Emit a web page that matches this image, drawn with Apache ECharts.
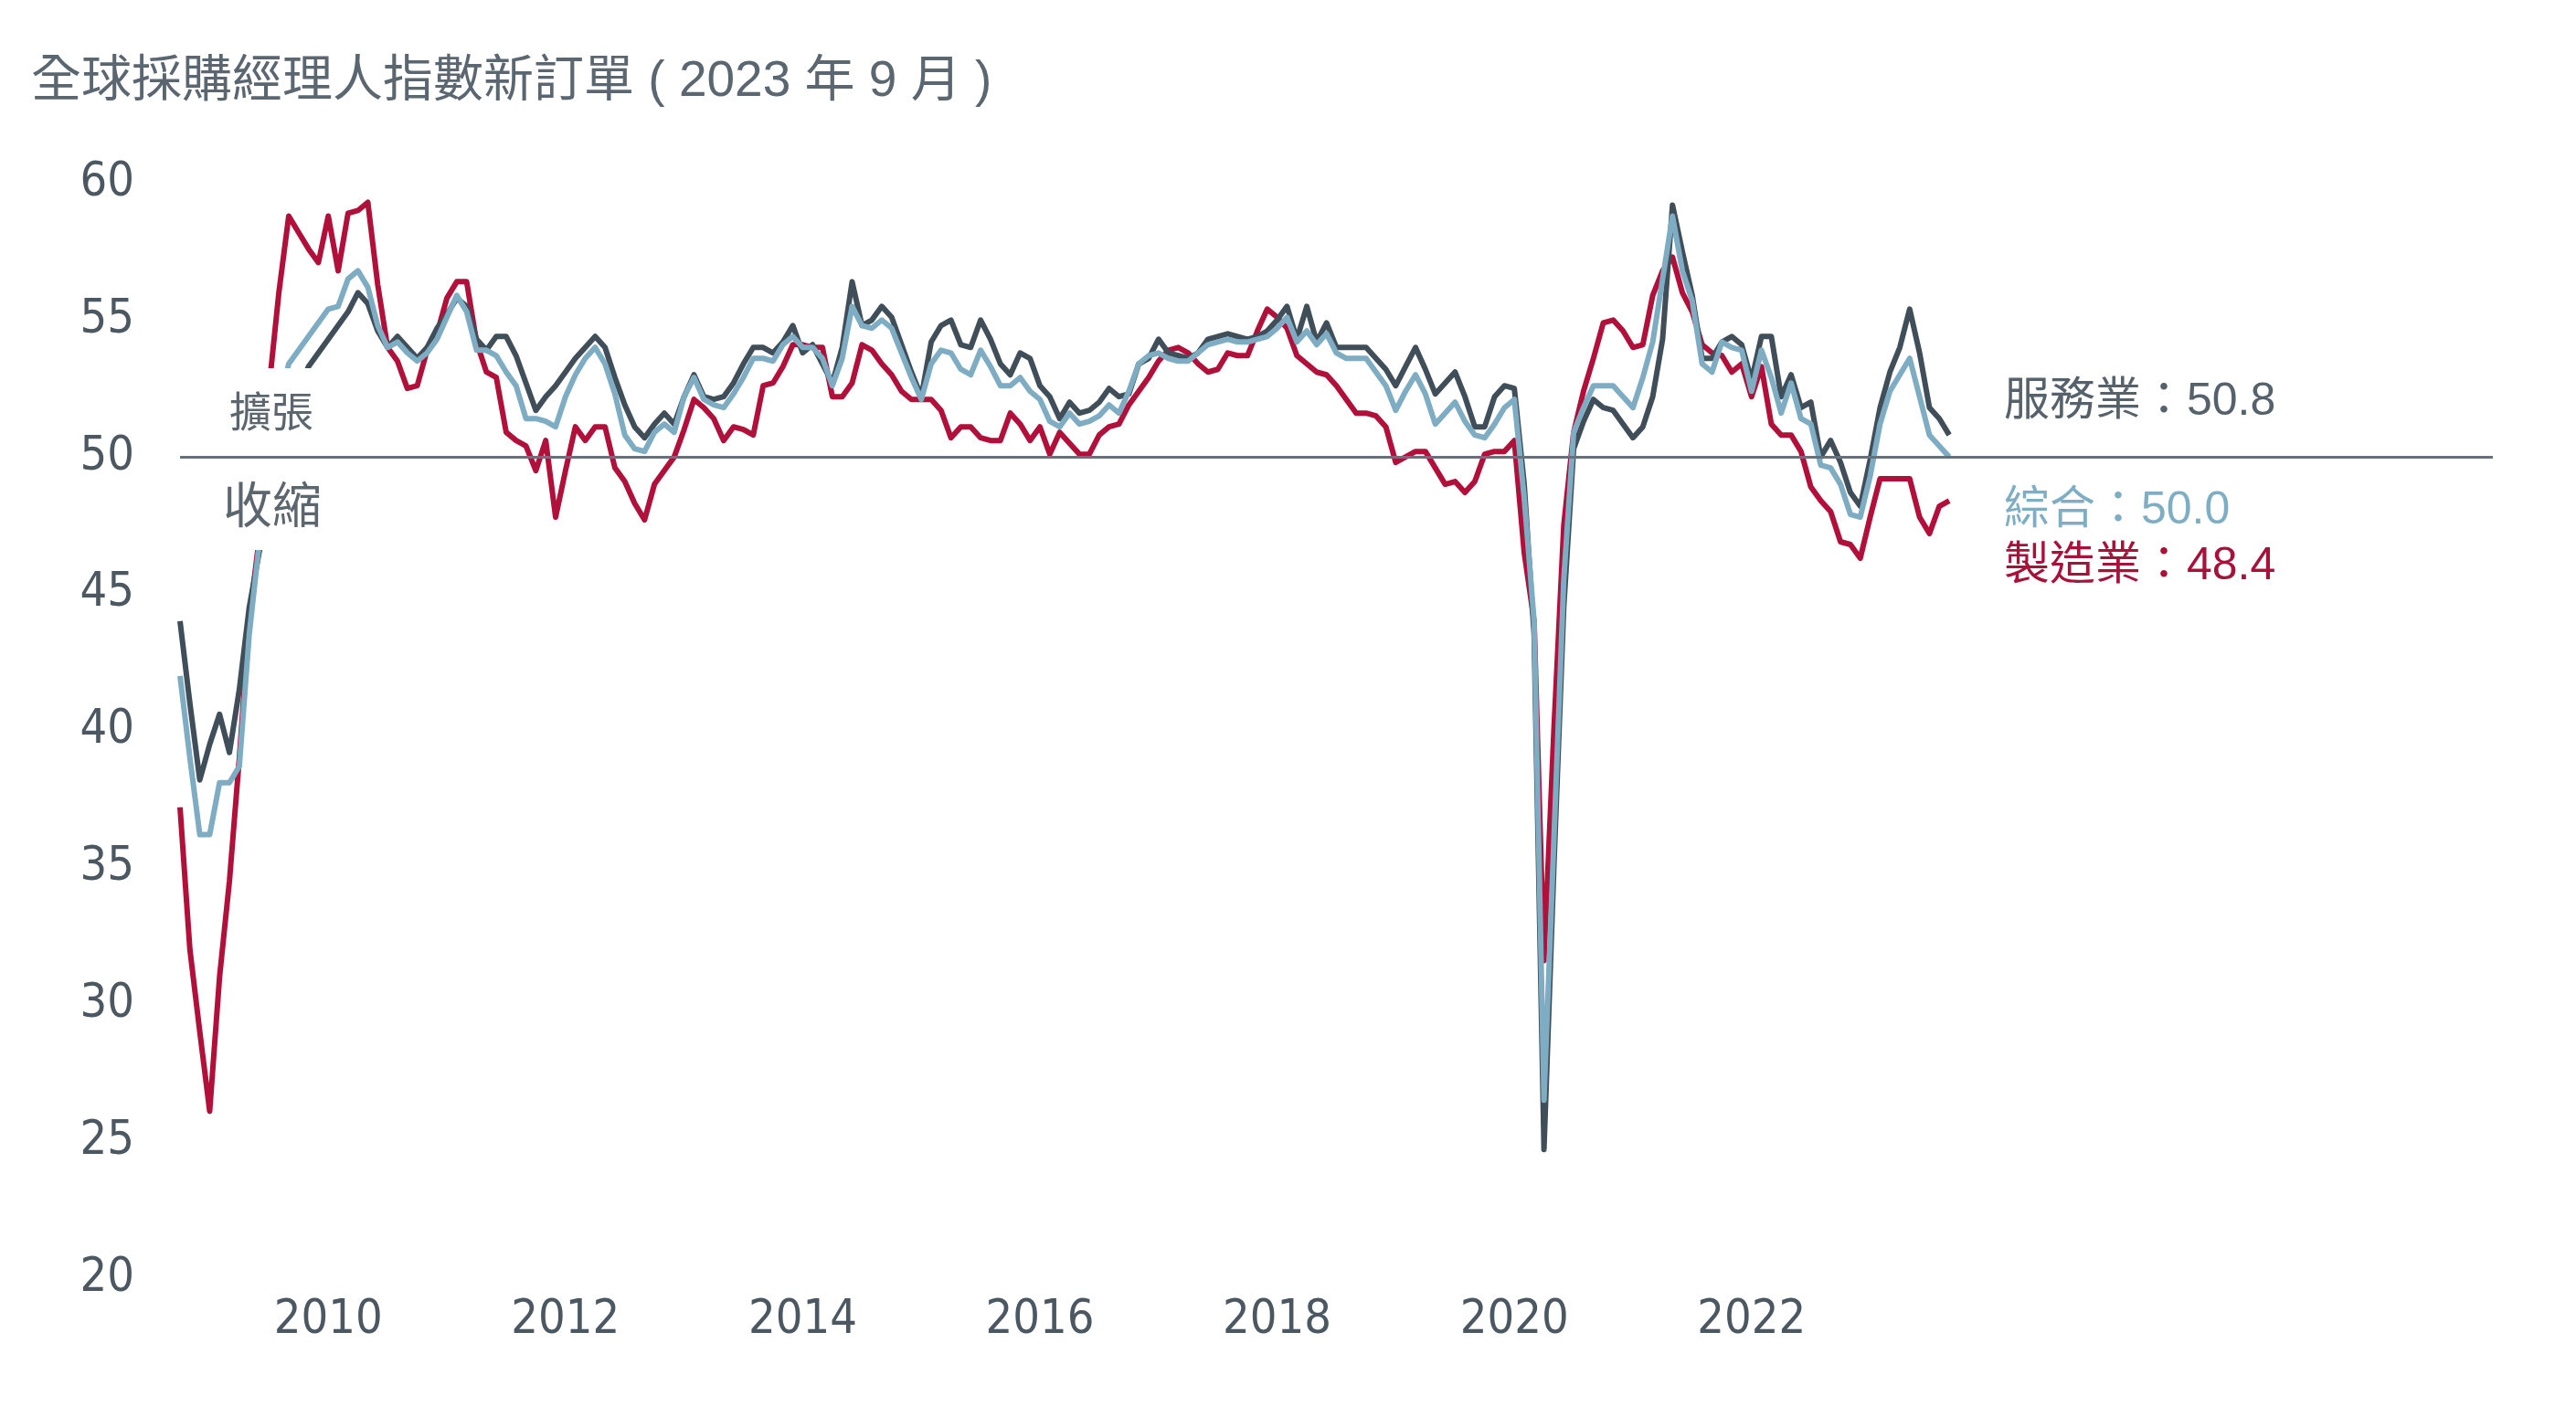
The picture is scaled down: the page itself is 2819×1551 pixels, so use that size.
<!DOCTYPE html>
<html>
<head>
<meta charset="utf-8">
<script src="https://cdn.jsdelivr.net/npm/echarts@6/dist/echarts.min.js"></script>
<style>
html,body{margin:0;padding:0;background:#ffffff;}
#chart{width:2819px;height:1551px;}
</style>
</head>
<body>
<div id="chart"></div>
<script>
// ---- axis / category definitions ----
const startYear = 2008;
const startMonth = 10;          // first month of the axis (Oct 2008)
const axisMonthCount = 235;     // axis runs past the data, to the end of the 50-line
const yearTickLabels = ['2010', '2012', '2014', '2016', '2018', '2020', '2022'];
const yMin = 20, yMax = 60, yStep = 5;
const threshold = 50;

// ---- series values (monthly, Oct 2008 – Sep 2023) ----
const manufacturing = [
  37.2, 32.0, 29.0,
  26.1, 31.0, 34.5, 39.0, 44.0, 47.0, 52.5, 56.0, 58.8, 58.2, 57.6, 57.1,
  58.8, 56.8, 58.9, 59.0, 59.3, 56.3, 54.0, 53.5, 52.5, 52.6, 53.9, 54.5,
  55.8, 56.4, 56.4, 54.2, 53.1, 52.9, 50.9, 50.6, 50.4, 49.5, 50.6, 47.8,
  49.5, 51.1, 50.6, 51.1, 51.1, 49.6, 49.1, 48.3, 47.7, 49.0, 49.5, 50.0,
  51.0, 52.1, 51.8, 51.4, 50.6, 51.1, 51.0, 50.8, 52.6, 52.7, 53.3, 54.1,
  54.1, 54.0, 54.0, 52.2, 52.2, 52.7, 54.1, 53.9, 53.4, 53.0, 52.4, 52.1,
  52.1, 52.1, 51.7, 50.7, 51.1, 51.1, 50.7, 50.6, 50.6, 51.6, 51.2, 50.6,
  51.1, 50.1, 50.9, 50.5, 50.1, 50.1, 50.8, 51.1, 51.2, 51.9, 52.4, 52.9,
  53.5, 53.9, 54.0, 53.8, 53.4, 53.1, 53.2, 53.8, 53.7, 53.7, 54.6, 55.4,
  55.1, 54.7, 53.7, 53.4, 53.1, 53.0, 52.6, 52.1, 51.6, 51.6, 51.5, 51.1,
  49.8, 50.0, 50.2, 50.2, 49.6, 49.0, 49.1, 48.7, 49.1, 50.1, 50.2, 50.2,
  50.6, 46.5, 44.0, 31.6, 40.0, 47.5, 50.9, 52.4, 53.6, 54.9, 55.0, 54.6,
  54.0, 54.1, 55.9, 56.8, 57.3, 56.0, 55.3, 54.1, 53.8, 53.7, 53.1, 53.4,
  52.2, 53.3, 51.2, 50.8, 50.8, 50.2, 48.9, 48.4, 48.0, 46.9, 46.8, 46.3,
  47.8, 49.2, 49.2, 49.2, 49.2, 47.8, 47.2, 48.2, 48.4
];
const services = [
  44.0, 41.0, 38.2,
  39.5, 40.6, 39.2, 41.5, 44.5, 46.5, 48.5, 50.2, 51.5, 52.5, 53.3, 53.8,
  54.3, 54.8, 55.3, 56.0, 55.6, 54.6, 54.0, 54.4, 54.0, 53.6, 54.0, 54.7,
  55.2, 55.8, 55.5, 54.3, 53.9, 54.4, 54.4, 53.7, 52.7, 51.7, 52.2, 52.6,
  53.1, 53.6, 54.0, 54.4, 54.0, 52.9, 51.9, 51.1, 50.7, 51.2, 51.6, 51.2,
  52.2, 53.0, 52.2, 52.1, 52.2, 52.7, 53.4, 54.0, 54.0, 53.8, 54.2, 54.8,
  53.8, 54.1, 53.4, 52.7, 54.0, 56.4, 54.8, 55.0, 55.5, 55.1, 54.1, 53.1,
  52.2, 54.2, 54.8, 55.0, 54.1, 54.0, 55.0, 54.3, 53.4, 53.0, 53.8, 53.6,
  52.6, 52.2, 51.4, 52.0, 51.6, 51.7, 52.0, 52.5, 52.2, 52.3, 53.4, 53.6,
  54.3, 53.8, 53.7, 53.6, 53.8, 54.3, 54.4, 54.5, 54.4, 54.3, 54.4, 54.6,
  55.0, 55.5, 54.3, 55.5, 54.2, 54.9, 54.0, 54.0, 54.0, 54.0, 53.6, 53.2,
  52.6, 53.3, 54.0, 53.2, 52.3, 52.7, 53.1, 52.2, 51.1, 51.1, 52.2, 52.6,
  52.5, 49.0, 43.5, 24.7, 35.0, 44.5, 50.3, 51.3, 52.1, 51.8, 51.7, 51.2,
  50.7, 51.1, 52.2, 54.3, 59.2, 57.5, 55.9, 53.6, 53.6, 54.2, 54.4, 54.1,
  52.8, 54.4, 54.4, 52.2, 53.0, 51.8, 52.0, 50.0, 50.6, 49.8, 48.7, 48.2,
  49.9, 51.8, 53.1, 54.0, 55.4, 53.8, 51.8, 51.4, 50.8
];
const composite = [
  42.0, 39.0, 36.2,
  36.2, 38.1, 38.1, 38.7, 43.5, 46.8, 50.0, 52.0, 53.4, 53.9, 54.4, 54.9,
  55.4, 55.5, 56.5, 56.8, 56.2, 54.8, 54.0, 54.2, 53.8, 53.5, 53.8, 54.3,
  55.1, 55.9, 55.3, 53.9, 53.9, 53.7, 53.1, 52.6, 51.4, 51.4, 51.3, 51.1,
  52.2, 53.0, 53.6, 54.0, 53.4, 52.3, 50.8, 50.3, 50.2, 50.9, 51.2, 50.9,
  52.2, 52.9, 52.1, 51.9, 51.8, 52.3, 52.9, 53.6, 53.6, 53.5, 54.1, 54.4,
  54.0, 54.0, 53.6, 52.6, 53.6, 55.5, 54.8, 54.7, 55.0, 54.7, 53.8, 52.9,
  52.1, 53.4, 53.9, 53.8, 53.2, 53.0, 53.9, 53.3, 52.6, 52.6, 52.9, 52.4,
  52.1, 51.3, 51.1, 51.6, 51.2, 51.3, 51.5, 51.9, 51.6, 52.4, 53.4, 53.7,
  53.8, 53.6, 53.5, 53.5, 53.8, 54.1, 54.2, 54.3, 54.2, 54.2, 54.3, 54.4,
  54.7, 55.1, 54.2, 54.6, 54.1, 54.5, 53.8, 53.6, 53.6, 53.6, 53.1, 52.6,
  51.7, 52.4, 53.0, 52.3, 51.2, 51.6, 52.0, 51.3, 50.8, 50.7, 51.2, 51.8,
  52.1, 48.5, 44.0, 26.5, 36.0, 45.5, 50.9, 51.8, 52.6, 52.6, 52.6, 52.2,
  51.8, 52.9, 54.2, 56.5, 58.8, 56.8, 55.7, 53.4, 53.1, 54.2, 54.0, 53.9,
  52.4, 53.9, 52.9, 51.6, 52.7, 51.4, 51.2, 49.7, 49.6, 49.0, 47.9, 47.8,
  49.3, 51.2, 52.4, 53.0, 53.6, 52.2, 50.8, 50.4, 50.0
];

// ---- texts ----
const titleText = '全球採購經理人指數新訂單 ( 2023 年 9 月 )';
const expandText = '擴張';
const contractText = '收縮';
const servicesName = '服務業';
const compositeName = '綜合';
const manufacturingName = '製造業';

// ---- colours ----
const RED = '#b0103a';
const DARK = '#3f4e59';
const BLUE = '#7eadc3';
const AXIS_TXT = '#4b5761';
const NARROW = "'Liberation Sans Narrow', 'DejaVu Sans Condensed', 'Arial Narrow', sans-serif";
const CJK = "'Liberation Sans', 'Noto Sans CJK TC', sans-serif";

// build month categories
const months = [];
for (let i = 0; i < axisMonthCount; i++) {
  const t = startYear * 12 + (startMonth - 1) + i;
  const y = Math.floor(t / 12), mo = (t % 12) + 1;
  months.push(y + '-' + String(mo).padStart(2, '0'));
}
const labelMonths = new Set(yearTickLabels.map(y => y + '-01'));
const last = arr => arr[arr.length - 1].toFixed(1);

const chart = echarts.init(document.getElementById('chart'), null, {renderer: 'canvas'});

function lineSeries(name, data, color, z) {
  return {
    name, type: 'line', data, symbol: 'none', showSymbol: false, smooth: false,
    lineStyle: {color, width: 6, join: 'round'}, itemStyle: {color},
    z, animation: false, silent: true
  };
}

const option = {
  animation: false,
  backgroundColor: '#ffffff',
  grid: {left: 197, right: 91, top: 200.5, bottom: 152, containLabel: false},
  xAxis: {
    type: 'category', data: months, boundaryGap: false,
    axisLine: {show: false}, axisTick: {show: false}, splitLine: {show: false},
    axisLabel: {
      interval: (idx, val) => labelMonths.has(val),
      formatter: v => v.slice(0, 4),
      fontSize: 52, fontFamily: NARROW, color: AXIS_TXT, margin: 20
    }
  },
  yAxis: {
    type: 'value', min: yMin, max: yMax, interval: yStep,
    axisLine: {show: false}, axisTick: {show: false}, splitLine: {show: false},
    axisLabel: {fontSize: 52, fontFamily: NARROW, color: AXIS_TXT, margin: 50}
  },
  series: [
    lineSeries(manufacturingName, manufacturing, RED, 2),
    lineSeries(servicesName, services, DARK, 3),
    lineSeries(compositeName, composite, BLUE, 4),
    {
      type: 'line', data: [], z: 20, silent: true, animation: false,
      markLine: {
        silent: true, animation: false, z: 20,
        symbol: ['none', 'none'],
        label: {show: false},
        lineStyle: {color: '#66727b', width: 3, type: 'solid'},
        data: [{yAxis: threshold}]
      }
    }
  ],
  graphic: [
    {type: 'rect', z: 10, silent: true,
     shape: {x: 197, y: 403, width: 235, height: 199},
     style: {fill: '#ffffff'}},
    {type: 'text', z: 30, x: 34, y: 90,
     style: {text: titleText, font: "55px " + CJK, fill: '#5b6770',
             textAlign: 'left', textVerticalAlign: 'middle'}},
    {type: 'text', z: 30, x: 297, y: 450,
     style: {text: expandText, font: "46px 'Noto Sans CJK TC', sans-serif", fill: '#5b666e',
             textAlign: 'center', textVerticalAlign: 'middle'}},
    {type: 'text', z: 30, x: 298, y: 552,
     style: {text: contractText, font: "54px 'Noto Sans CJK TC', sans-serif", fill: '#5b666e',
             textAlign: 'center', textVerticalAlign: 'middle'}},
    {type: 'text', z: 30, x: 2193, y: 440,
     style: {text: servicesName + '：' + last(services), font: "50px " + CJK, fill: '#56626b',
             textAlign: 'left', textVerticalAlign: 'middle'}},
    {type: 'text', z: 30, x: 2193, y: 559,
     style: {text: compositeName + '：' + last(composite), font: "50px " + CJK, fill: '#7eaec4',
             textAlign: 'left', textVerticalAlign: 'middle'}},
    {type: 'text', z: 30, x: 2193, y: 620,
     style: {text: manufacturingName + '：' + last(manufacturing), font: "50px " + CJK, fill: '#a8123a',
             textAlign: 'left', textVerticalAlign: 'middle'}}
  ]
};
chart.setOption(option);
</script>
</body>
</html>
